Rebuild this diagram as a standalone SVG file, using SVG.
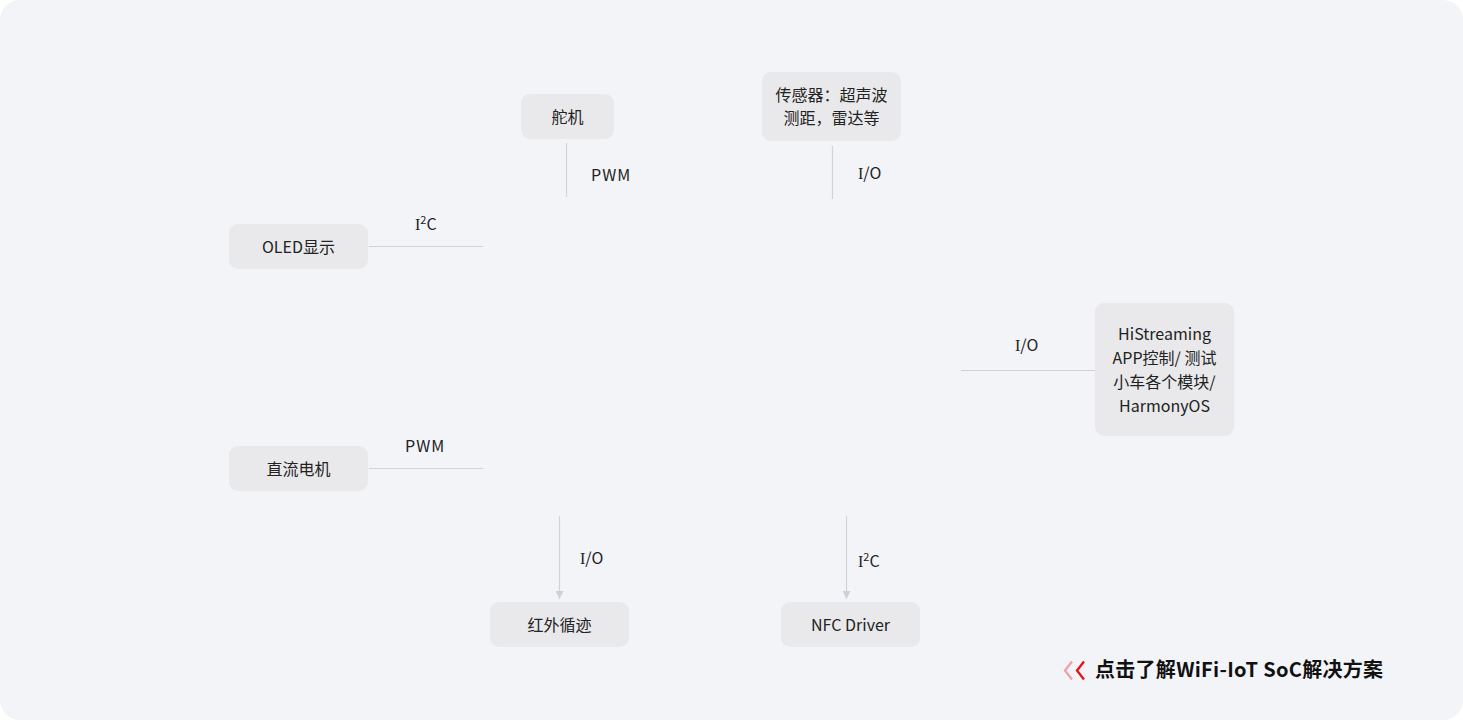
<svg xmlns="http://www.w3.org/2000/svg" width="1463" height="720" viewBox="0 0 1463 720">
<defs>
<style>
.node rect{fill:#e9e9eb;}
.t{font-family:"Noto Sans CJK SC","Noto Sans",sans-serif;font-size:16px;fill:#222;text-anchor:middle;}
.lbl{font-family:"Noto Sans CJK SC","Noto Sans",sans-serif;font-size:16px;fill:#222;}
.ser{font-family:"Liberation Serif",serif;}
.conn line{stroke:#d2d2d8;stroke-width:1.2;fill:none;}
</style>
<marker id="arr" viewBox="0 0 10 10" refX="10" refY="5" markerWidth="8" markerHeight="8" markerUnits="userSpaceOnUse" orient="auto">
<path d="M0,0 L10,5 L0,10 z" fill="#cfcfd5"/>
</marker>
</defs>
<rect x="0" y="0" width="1463" height="720" fill="#ffffff"/>
<rect x="0" y="0" width="1463" height="720" rx="20" ry="20" fill="#f3f4f8"/>

<g id="connectors" class="conn">
<line x1="566.5" y1="143" x2="566.5" y2="197"/>
<line x1="832.5" y1="146" x2="832.5" y2="199"/>
<line x1="369" y1="246.5" x2="483" y2="246.5"/>
<line x1="369" y1="468.5" x2="483" y2="468.5"/>
<line x1="961" y1="370.5" x2="1095" y2="370.5"/>
<line x1="559.5" y1="516" x2="559.5" y2="599" marker-end="url(#arr)"/>
<line x1="846.5" y1="516" x2="846.5" y2="599" marker-end="url(#arr)"/>
</g>

<g id="labels">
<text class="lbl" x="591" y="181" letter-spacing="1">PWM</text>
<text class="lbl" x="858" y="179"><tspan class="ser">I</tspan>/O</text>
<text class="lbl" x="415" y="230"><tspan class="ser">I</tspan><tspan dy="-6" font-size="11">2</tspan><tspan dy="6">C</tspan></text>
<text class="lbl" x="405" y="452" letter-spacing="1">PWM</text>
<text class="lbl" x="1015" y="351"><tspan class="ser">I</tspan>/O</text>
<text class="lbl" x="580" y="564"><tspan class="ser">I</tspan>/O</text>
<text class="lbl" x="858" y="567"><tspan class="ser">I</tspan><tspan dy="-6" font-size="11">2</tspan><tspan dy="6">C</tspan></text>
</g>

<g id="node-duoji" class="node">
<rect x="521" y="94" width="93" height="45" rx="9"/>
<text class="t" x="567.5" y="122.5">舵机</text>
</g>
<g id="node-sensor" class="node">
<rect x="762" y="72" width="139" height="69" rx="9"/>
<text class="t" x="831.5" y="101">传感器：超声波</text>
<text class="t" x="831.5" y="124">测距，雷达等</text>
</g>
<g id="node-oled" class="node">
<rect x="229" y="224" width="139" height="45" rx="9"/>
<text class="t" x="298.5" y="252.5">OLED显示</text>
</g>
<g id="node-motor" class="node">
<rect x="229" y="446" width="139" height="45" rx="9"/>
<text class="t" x="298.5" y="474.5">直流电机</text>
</g>
<g id="node-histreaming" class="node">
<rect x="1095" y="303" width="139" height="133" rx="9"/>
<text class="t" x="1164.5" y="340">HiStreaming</text>
<text class="t" x="1164.5" y="364">APP控制/ 测试</text>
<text class="t" x="1164.5" y="388">小车各个模块/</text>
<text class="t" x="1164.5" y="412">HarmonyOS</text>
</g>
<g id="node-ir" class="node">
<rect x="490" y="602" width="139" height="45" rx="9"/>
<text class="t" x="559.5" y="630.5">红外循迹</text>
</g>
<g id="node-nfc" class="node">
<rect x="781" y="602" width="139" height="45" rx="9"/>
<text class="t" x="850.5" y="630.5">NFC Driver</text>
</g>

<g id="link">
<path d="M1072,661.5 L1065,670.5 L1072,679.5" fill="none" stroke="#f0a0a8" stroke-width="2.3"/>
<path d="M1084,661.5 L1077,670.5 L1084,679.5" fill="none" stroke="#e8101e" stroke-width="2.3"/>
<text x="1095" y="677" font-family="'Noto Sans CJK SC','Noto Sans',sans-serif" font-size="20" font-weight="bold" fill="#111" textLength="288" lengthAdjust="spacing">点击了解WiFi-IoT SoC解决方案</text>
</g>
</svg>
